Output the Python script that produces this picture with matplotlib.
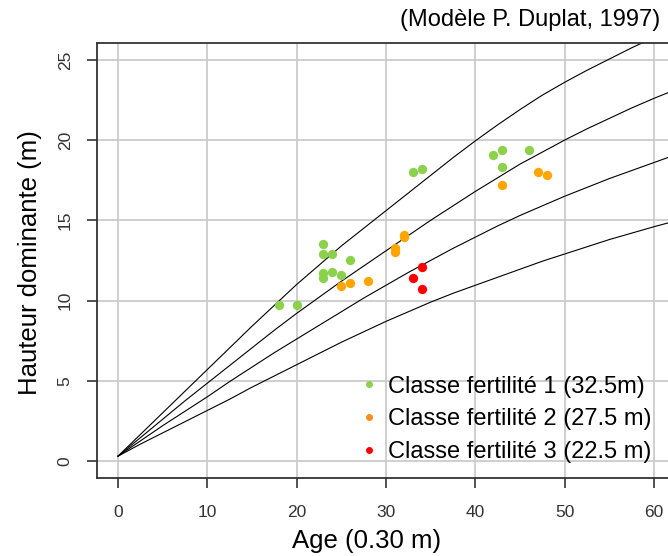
import matplotlib.pyplot as plt
from matplotlib.lines import Line2D

# reference curves, one per fertility class
ages = [0, 2.5, 5, 7.5, 10, 12.5, 15, 17.5, 20, 22.5, 25, 27.5, 30, 32.5, 35,
        37.5, 40, 42.5, 45, 47.5, 50, 52.5, 55, 57.5, 60, 62]
curve_a = [0.3, 1.65, 3.0, 4.35, 5.7, 7.05, 8.4, 9.7, 11.0, 12.2, 13.4, 14.5, 15.6,
           16.7, 17.8, 18.9, 19.95, 20.95, 21.9, 22.8, 23.6, 24.35, 25.05, 25.75, 26.4, 26.9]
curve_b = [0.3, 1.45, 2.6, 3.75, 4.85, 5.95, 7.05, 8.15, 9.2, 10.2, 11.2, 12.15, 13.1,
           14.05, 15.0, 15.9, 16.8, 17.65, 18.5, 19.25, 20.0, 20.7, 21.35, 22.0, 22.6, 23.05]
curve_c = [0.3, 1.25, 2.2, 3.1, 4.0, 4.95, 5.85, 6.75, 7.6, 8.45, 9.3, 10.15, 10.95,
           11.75, 12.5, 13.25, 13.95, 14.65, 15.3, 15.9, 16.5, 17.05, 17.6, 18.1, 18.6, 19.0]
curve_d = [0.3, 1.05, 1.75, 2.45, 3.15, 3.85, 4.6, 5.3, 6.0, 6.7, 7.4, 8.05, 8.7,
           9.3, 9.9, 10.45, 10.95, 11.45, 11.95, 12.45, 12.9, 13.35, 13.8, 14.2, 14.6, 14.9]

# observed stands
c1_age = [18, 20, 23, 23, 24, 23, 23, 24, 25, 26, 33, 34, 42, 43, 43, 46]
c1_h = [9.7, 9.7, 13.5, 12.9, 12.9, 11.7, 11.4, 11.8, 11.6, 12.5, 18.0, 18.2, 19.1, 19.4, 18.3, 19.4]
c2_age = [25, 26, 28, 31, 31, 32, 32, 43, 47, 48]
c2_h = [10.9, 11.1, 11.2, 13.0, 13.3, 13.95, 14.1, 17.2, 18.0, 17.8]
c3_age = [33, 34, 34]
c3_h = [11.4, 12.1, 10.7]

labels = ['Classe fertilité 1 (32.5m)', 'Classe fertilité 2 (27.5 m)', 'Classe fertilité 3 (22.5 m)']

plt.rcParams['font.family'] = ['Liberation Sans', 'DejaVu Sans']

fig = plt.figure(figsize=(6.68, 5.56), dpi=100)
ax = fig.add_axes([97 / 668, 78 / 556, 571 / 668, 435 / 556])

for h in [curve_a, curve_b, curve_c, curve_d]:
    ax.plot(ages, h, color='black', lw=0.8)

ax.scatter(c1_age, c1_h, s=45, color='#8cd14b', linewidths=0, zorder=3)
ax.scatter(c2_age, c2_h, s=45, color='#ffa500', linewidths=0, zorder=3)
ax.scatter(c3_age, c3_h, s=45, color='#ff0000', linewidths=0, zorder=3)

ax.set_xlim(-2.35, 61.57)
ax.set_ylim(-1.06, 26.05)
ax.set_xticks(range(0, 61, 10))
ax.set_yticks(range(0, 26, 5))
ax.grid(True, color='#cccccc', lw=1.3)
ax.set_axisbelow(True)

ax.spines['right'].set_visible(False)
for s in ['left', 'bottom', 'top']:
    ax.spines[s].set_color('#333333')
    ax.spines[s].set_linewidth(1.3)
ax.tick_params(length=7.5, width=1.3, color='#444444', labelsize=12.5,
               labelcolor='#333333', pad=10)
ax.tick_params(axis='x', pad=12)
ax.tick_params(axis='y', labelrotation=90)
for t in ax.get_yticklabels():
    t.set_va('center')

handles = [Line2D([], [], ls='none', marker='o', ms=5, mew=0, color=c)
           for c in ['#8cd14b', '#ff8c1a', '#ff0000']]
ax.legend(handles, labels, loc='upper left', bbox_to_anchor=(0.447, 0.257),
          frameon=False, fontsize=17, handlelength=0.6, handletextpad=0.5,
          labelspacing=0.45, borderaxespad=0)

fig.text(660 / 668, 1 - 20 / 556, '(Modèle P. Duplat, 1997)', ha='right', va='center', fontsize=17)
fig.text(367 / 668, 1 - 541 / 556, 'Age (0.30 m)', ha='center', va='center', fontsize=18.5)
fig.text(30 / 668, 1 - 263 / 556, 'Hauteur dominante (m)', ha='center', va='center',
         rotation=90, fontsize=18.5)

fig.savefig('out.png', dpi=100)
